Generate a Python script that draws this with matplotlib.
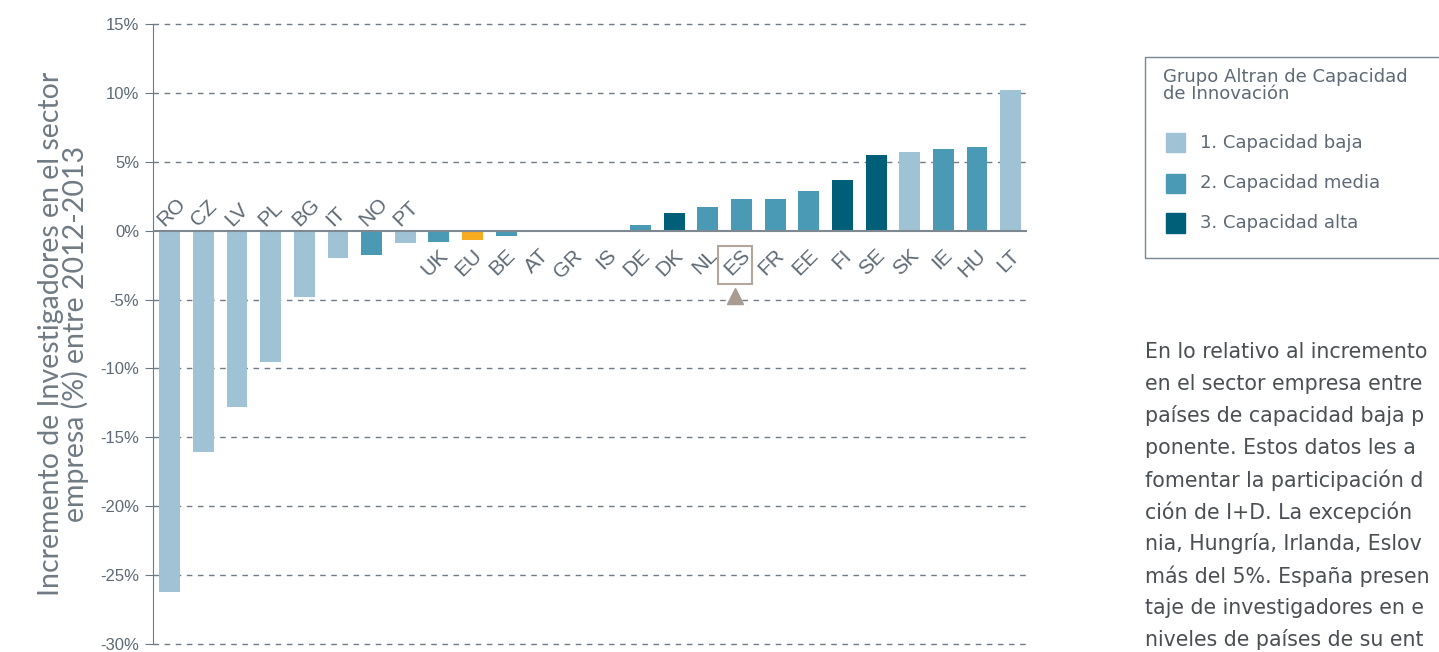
import numpy as np
import matplotlib
matplotlib.use("Agg")
import matplotlib.pyplot as plt
from matplotlib.patches import Rectangle

# datos
paises = ["RO", "CZ", "LV", "PL", "BG", "IT", "NO", "PT", "UK", "EU", "BE", "AT", "GR",
          "IS", "DE", "DK", "NL", "ES", "FR", "EE", "FI", "SE", "SK", "IE", "HU", "LT"]
incremento = [-26.2, -16.1, -12.8, -9.5, -4.85, -2.0, -1.8, -0.9, -0.85, -0.65, -0.4, 0.0, 0.0,
              0.0, 0.4, 1.3, 1.7, 2.3, 2.3, 2.9, 3.7, 5.5, 5.7, 5.9, 6.1, 10.2]
grupo = ["baja", "baja", "baja", "baja", "baja", "baja", "media", "baja", "media", "EU", "media", "media", "media",
         "media", "media", "alta", "media", "media", "media", "media", "alta", "alta", "baja", "media", "media", "baja"]
# etiqueta encima del eje (True) o debajo (False)
arriba = [True] * 8 + [False] * 18
yticks = [15, 10, 5, 0, -5, -10, -15, -20, -25, -30]
leyenda = ["1. Capacidad baja", "2. Capacidad media", "3. Capacidad alta"]
texto = ["En lo relativo al incremento",
         "en el sector empresa entre",
         "países de capacidad baja p",
         "ponente. Estos datos les a",
         "fomentar la participación d",
         "ción de I+D. La excepción",
         "nia, Hungría, Irlanda, Eslov",
         "más del 5%. España presen",
         "taje de investigadores en e",
         "niveles de países de su ent"]

colores = {"baja": "#9fc3d5", "media": "#4a9ab5", "alta": "#005f78", "EU": "#f7ab1f"}
gris = "#5d6974"

fig = plt.figure(figsize=(14.39, 6.52), dpi=100)
ax = fig.add_axes([0.1063, 0.0125, 0.6077, 0.9505])

x = np.arange(len(paises))
ax.bar(x, incremento, width=0.62, color=[colores[g] for g in grupo], zorder=3)

ax.set_xlim(-0.5, len(paises) - 0.5)
ax.set_ylim(-30, 15)
ax.set_yticks(yticks)
ax.set_yticklabels([f"{t}%" for t in yticks], fontsize=12, color=gris, family="Liberation Sans")
ax.set_xticks([])
for t in yticks:
    if t != 0:
        ax.axhline(t, color="#6f7b86", lw=1, ls=(0, (4, 4)), zorder=1, clip_on=False)
ax.axhline(0, color="#7d8891", lw=1.5, zorder=4)
for s in ["top", "right", "bottom"]:
    ax.spines[s].set_visible(False)
ax.spines["left"].set_color("#6d7882")
ax.tick_params(axis="y", length=6, color="#6d7882", pad=4)

for i, (p, up) in enumerate(zip(paises, arriba)):
    if up:
        ax.text(i - 0.15, 0.25, p, rotation=45, rotation_mode="anchor", ha="left", va="baseline",
                fontsize=15, color=gris, family="Liberation Sans")
    else:
        ax.text(i - 0.02, -1.1, p, rotation=45, rotation_mode="anchor", ha="right", va="top",
                fontsize=15, color=gris, family="Liberation Sans")

# resaltado de España
es = paises.index("ES")
ax.add_patch(Rectangle((es - 0.7, -3.85), 1.0, 2.75, fill=False, ec="#b3a79d", lw=1.5, zorder=5))
ax.plot(es - 0.2, -4.75, marker="^", ms=12, color="#a89c92", clip_on=False, zorder=5)

ax.set_ylabel("Incremento de Investigadores en el sector\nempresa (%) entre 2012-2013",
              fontsize=20.5, color="#6f7a83", family="Lato", linespacing=0.88, labelpad=8)

# leyenda dibujada a mano
fig.patches.append(Rectangle((1145 / 1439, 1 - 258 / 652), 0.3, 201 / 652, transform=fig.transFigure,
                             fill=False, ec="#7a8690", lw=1))
fig.text(1163 / 1439, 1 - 68 / 652, "Grupo Altran de Capacidad\nde Innovación", fontsize=13,
         color=gris, family="DejaVu Sans", va="top", linespacing=0.9)
for k, (lab, g) in enumerate(zip(leyenda, ["baja", "media", "alta"])):
    yc = 1 - (143 + 40 * k) / 652
    fig.patches.append(Rectangle((1166 / 1439, yc - 9.5 / 652), 19 / 1439, 19 / 652,
                                 transform=fig.transFigure, color=colores[g]))
    fig.text(1200 / 1439, yc, lab, fontsize=13, color=gris, family="DejaVu Sans", va="center")

for k, linea in enumerate(texto):
    fig.text(1145 / 1439, 1 - (352 + 32 * k) / 652, linea, fontsize=14.8, color="#4a4f54",
             family="DejaVu Sans", va="center")

fig.savefig("out.png", dpi=100)
